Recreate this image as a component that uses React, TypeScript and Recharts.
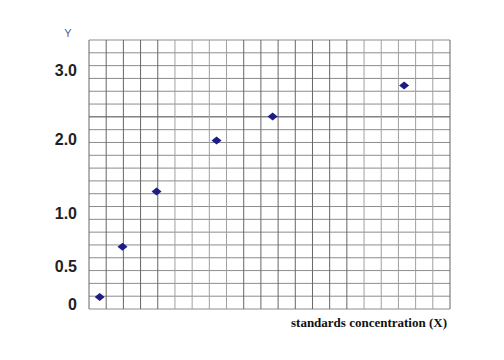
import React from 'react';
import { ScatterChart, Scatter, XAxis, YAxis, ReferenceLine, Label } from 'recharts';

// Readings measured in grid squares of the plot paper (21 x 21 squares)
const xValues = [0.62, 1.95, 3.93, 7.42, 10.68, 18.33];
const yValues = [0.94, 4.86, 9.17, 13.15, 15.02, 17.44];

// Hand-written y labels on the paper and the square they sit on
const yTickLabels = ['0', '0.5', '1.0', '2.0', '3.0'];
const yTickSquares = [0.39, 3.3, 7.47, 13.28, 18.63];

const gridSquares = Array.from({ length: 22 }, (_, i) => i);

const points = xValues.map((x, i) => ({ x, y: yValues[i] }));

// the scanned paper prints some vertical rules darker than others
const verticalStroke = (v: number) => ((v <= 4 || (v >= 9 && v <= 15) || v === 21) ? '#666' : '#a0a0a0');

const Diamond = (props: any) => {
  const { cx, cy } = props;
  if (cx == null || cy == null) return null;
  return (
    <polygon
      points={`${cx - 5},${cy} ${cx},${cy - 4} ${cx + 5},${cy} ${cx},${cy + 4}`}
      fill="#1c1c84"
    />
  );
};

const YTick = (props: any) => {
  const { x, y, payload } = props;
  const idx = yTickSquares.indexOf(payload.value);
  return (
    <text
      x={x - 2}
      y={y}
      dy="0.36em"
      textAnchor="end"
      style={{ fontFamily: "'Liberation Sans', Arial, sans-serif", fontWeight: 'bold', fontSize: 16 }}
      fill="#222"
    >
      {yTickLabels[idx]}
    </text>
  );
};

export default function App() {
  return (
    <div style={{ position: 'absolute', left: 0, top: 0, background: '#fff' }}>
      <ScatterChart width={504} height={360} margin={{ top: 40, right: 54, bottom: 0, left: 0 }}>
        {gridSquares.map((v) => (
          <ReferenceLine key={`h${v}`} y={v} stroke={v === 15 ? '#444' : '#8c8c8c'} ifOverflow="extendDomain" />
        ))}
        {gridSquares.map((v) => (
          <ReferenceLine key={`v${v}`} x={v} stroke={verticalStroke(v)} ifOverflow="extendDomain" />
        ))}
        <XAxis
          type="number"
          dataKey="x"
          domain={[0, 21]}
          ticks={gridSquares}
          tick={false}
          tickLine={false}
          axisLine={false}
          height={51}
        >
          <Label
            content={(p: any) => {
              const vb = p.viewBox;
              return (
                <text
                  x={vb.x + vb.width - 3}
                  y={vb.y + 18}
                  textAnchor="end"
                  style={{ fontFamily: "'Liberation Serif', 'DejaVu Serif', serif", fontWeight: 'bold', fontSize: 13 }}
                  fill="#111"
                >
                  standards concentration (X)
                </text>
              );
            }}
          />
        </XAxis>
        <YAxis
          type="number"
          dataKey="y"
          domain={[0, 21]}
          ticks={yTickSquares}
          tick={<YTick />}
          tickLine={false}
          axisLine={false}
          tickSize={8}
          width={89}
          interval={0}
        >
          <Label
            content={(p: any) => {
              const vb = p.viewBox;
              return (
                <text
                  x={vb.x + vb.width - 21}
                  y={vb.y - 3}
                  textAnchor="middle"
                  style={{ fontFamily: "'Liberation Sans', Arial, sans-serif", fontSize: 11 }}
                  fill="#5a5a9c"
                >
                  Y
                </text>
              );
            }}
          />
        </YAxis>
        <Scatter data={points} shape={<Diamond />} isAnimationActive={false} />
      </ScatterChart>
    </div>
  );
}
